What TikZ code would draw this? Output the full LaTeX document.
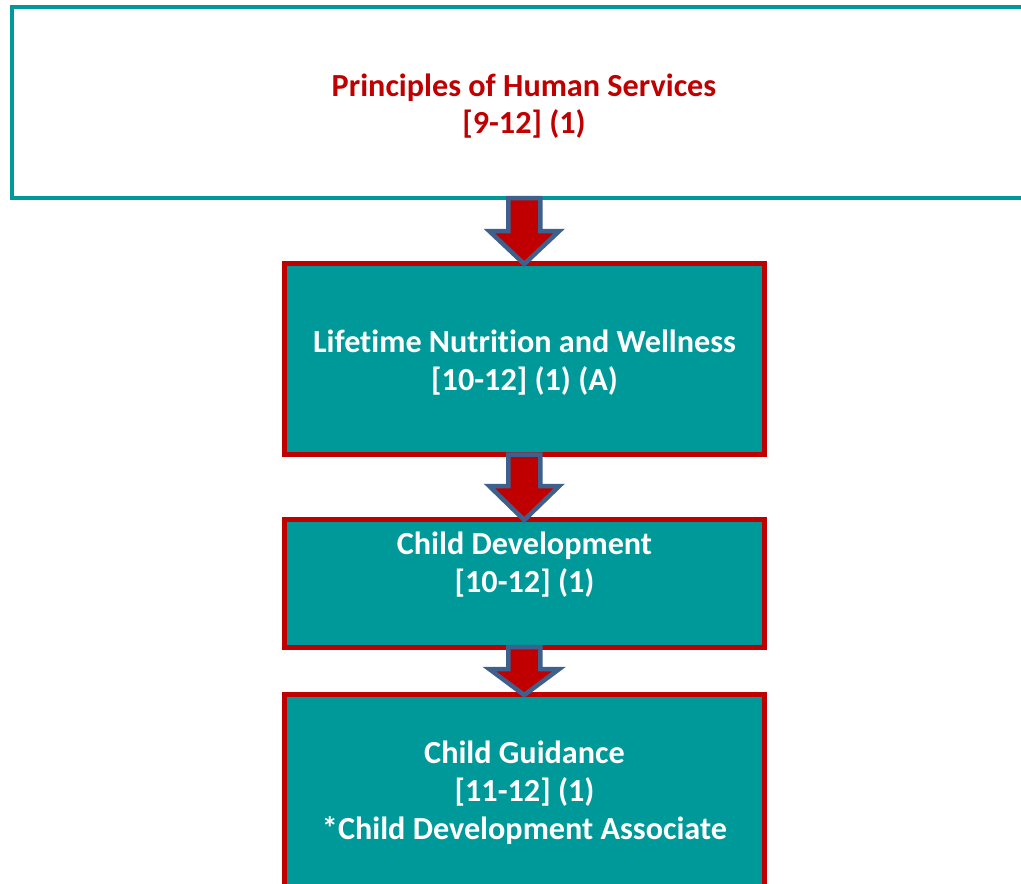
\documentclass[tikz,border=0pt]{standalone}
\usepackage{fontspec}
\setmainfont{Carlito}[Ligatures=NoCommon]
\usetikzlibrary{calc}
\definecolor{teal1}{RGB}{0,153,153}
\definecolor{red1}{RGB}{192,0,0}
\definecolor{arrowline}{RGB}{62,96,140}
\tikzset{
  every node/.style={inner sep=0pt, outer sep=0pt},
  topbox/.style={draw=teal1, line width=4pt, fill=white, rectangle},
  coursebox/.style={draw=red1, line width=5pt, fill=teal1, rectangle},
  toptext/.style={text=red1, font=\bfseries\fontsize{32.2}{37.5}\selectfont, align=center, anchor=base},
  boxtext/.style={text=white, font=\bfseries\fontsize{32.2}{38}\selectfont, align=center, anchor=base},
  blockarr/.style={fill=red1, draw=arrowline, line width=4.5pt, line join=miter, miter limit=10}
}
\newcommand\downarrowblock[3]{% #1 start coord, #2 tip coord, #3 head length
  \draw[blockarr]
    let \p1=#1, \p2=#2 in
    (\x2-16pt,\y1) -- (\x2-16pt,\y2+#3pt) -- (\x2-35pt,\y2+#3pt) -- (\x2,\y2)
    -- (\x2+35pt,\y2+#3pt) -- (\x2+16pt,\y2+#3pt) -- (\x2+16pt,\y1) -- cycle;
}
\begin{document}
\begin{tikzpicture}[x=1pt,y=-1pt]
\useasboundingbox (0,0) rectangle (1021,884);
\clip (0,0) rectangle (1021,884);
% boxes
\node[topbox, minimum width=1028pt, minimum height=191pt, anchor=north west] (top) at (12,7) {};
\node[coursebox, minimum width=479.5pt, minimum height=191.5pt, anchor=north west] (b2) at (284.5,263) {};
\node[coursebox, minimum width=479.5pt, minimum height=128pt, anchor=north west] (b3) at (284.5,519) {};
\node[coursebox, minimum width=479.5pt, minimum height=220pt, anchor=north west] (b4) at (284.5,694) {};
% texts
\node[toptext] (t1) at (524,133.5) {Principles of Human Services\\{[9-12]} (1)};
\node[boxtext] (t2) at (524.5,390) {Lifetime Nutrition and Wellness\\{[10-12]} (1) (A)};
\node[boxtext] (t3) at (524.5,592) {Child Development\\{[10-12]} (1)};
\node[boxtext] (t4) at (524.5,839) {Child Guidance\\{[11-12]} (1)\\*Child Development Associate};
% arrows
\coordinate (a1s) at (top.south -| b2.north);
\coordinate (a1e) at ($(b2.north)+(0,1)$);
\downarrowblock{(a1s)}{(a1e)}{33}
\coordinate (a2e) at ($(b3.north)+(0,1)$);
\downarrowblock{(b2.south)}{(a2e)}{34}
\coordinate (a3e) at ($(b4.north)+(0,1)$);
\downarrowblock{(b3.south)}{(a3e)}{26}
\end{tikzpicture}
\end{document}
